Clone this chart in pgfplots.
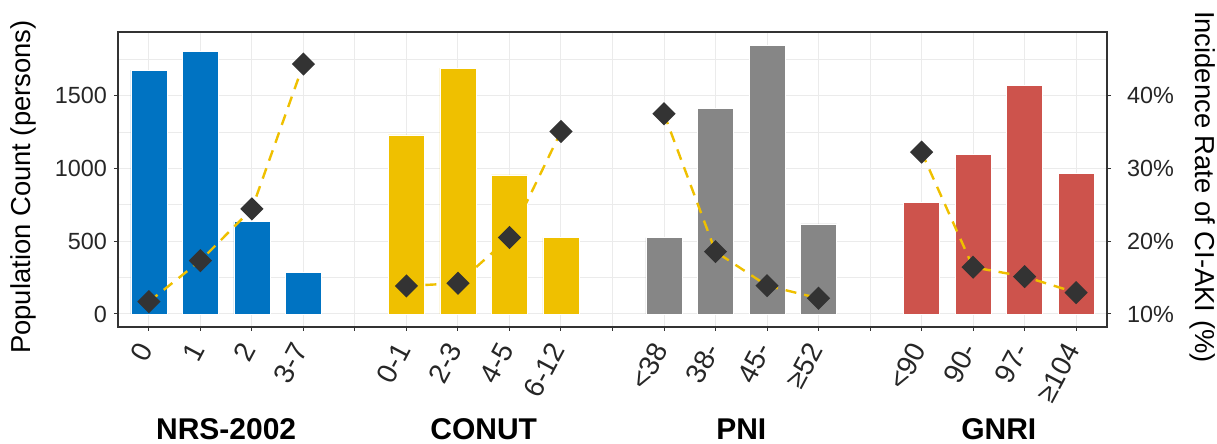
\documentclass[border=0pt]{standalone}
\usepackage{pgfplots}
\pgfplotsset{compat=1.18}
\usepackage{fontspec}
\setmainfont{Liberation Sans}
\definecolor{cBlue}{HTML}{0073C2}
\definecolor{cYel}{HTML}{EFC000}
\definecolor{cGray}{HTML}{868686}
\definecolor{cRed}{HTML}{CD534C}
\definecolor{cDark}{HTML}{333333}
\definecolor{cGrid}{HTML}{EBEBEB}

\pgfplotsset{common/.style={
  scale only axis, width=494.5pt, height=147.5pt,
  xmin=0.4, xmax=19.6,
  tick align=outside, major tick length=2pt,
  every tick/.style={cDark, line width=0.5pt},
  tick label style={font=\fontsize{11.7}{12}\selectfont, text=black!85},
},
rate/.style={cYel, line width=1.2pt, dash pattern=on 5.5pt off 4pt,
  mark=square*, mark size=3.5pt, mark options={solid, rotate=45, fill=cDark, draw=cDark}},
bars/.style={ybar, bar width=0.7, bar shift=0pt, fill=#1, draw=white, line width=0.3pt},
}

\begin{document}
\begin{tikzpicture}
\begin{axis}[common,
  ymin=-89.3, ymax=1935.7,
  axis line style={cDark, line width=0.75pt},
  xtick={1,...,19},
  xticklabels={0,1,2,3-7,{},0-1,2-3,4-5,6-12,{},<38,38-,45-,≥52,{},<90,90-,97-,≥104},
  xtick pos=left, ytick pos=left,
  ytick={0,500,1000,1500}, yticklabels={0,500,1000,1500},
  minor ytick={250,750,1250,1750},
  minor tick length=0pt,
  xmajorgrids, ymajorgrids, yminorgrids,
  major grid style={cGrid, line width=0.5pt},
  minor grid style={cGrid, line width=0.3pt},
  xticklabel style={rotate=62, anchor=east, font=\fontsize{14}{14}\selectfont},
  xticklabel shift=4pt,
]
\addplot[bars=cBlue] coordinates {(1,1674) (2,1802) (3,634) (4,284)};
\addplot[bars=cYel] coordinates {(6,1230) (7,1688) (8,955) (9,524)};
\addplot[bars=cGray] coordinates {(11,524) (12,1411) (13,1844) (14,618)};
\addplot[bars=cRed] coordinates {(16,765) (17,1093) (18,1569) (19,967)};
\coordinate (SW) at (rel axis cs:0,0);
\coordinate (G1) at (axis cs:2.5,-89.3);
\coordinate (G2) at (axis cs:7.5,-89.3);
\coordinate (G3) at (axis cs:12.5,-89.3);
\coordinate (G4) at (axis cs:17.5,-89.3);
\end{axis}
\begin{axis}[common,
  ymin=8.214, ymax=48.71,
  axis x line=none, axis y line*=right,
  axis line style={-, cDark, line width=0.75pt},
  ytick={10,20,30,40}, yticklabels={10\%,20\%,30\%,40\%},
  ytick pos=right,
  yticklabel shift=4.5pt,
]
\addplot[rate] coordinates {(1,11.69) (2,17.32) (3,24.43) (4,44.31)};
\addplot[rate] coordinates {(6,13.85) (7,14.22) (8,20.49) (9,35.05)};
\addplot[rate] coordinates {(11,37.48) (12,18.56) (13,13.89) (14,12.16)};
\addplot[rate] coordinates {(16,32.22) (17,16.42) (18,15.13) (19,12.93)};
\end{axis}
\path (SW) ++(-47.5pt,70pt) node[rotate=90, font=\fontsize{13.7}{14}\selectfont]{Population Count (persons)};
\path (SW) ++(542.5pt,70pt) node[rotate=-90, font=\fontsize{13.7}{14}\selectfont]{Incidence Rate of CI-AKI (\%)};
\foreach \g/\t in {G1/NRS-2002,G2/CONUT,G3/PNI,G4/GNRI}
  \path (\g) ++(0,-56.5pt) node[anchor=base, font=\bfseries\fontsize{15}{15}\selectfont]{\t};
\pgfresetboundingbox
\path[use as bounding box] ([shift={(-59pt,-58.5pt)}]SW) rectangle ([shift={(549.5pt,163.5pt)}]SW);
\end{tikzpicture}
\end{document}
